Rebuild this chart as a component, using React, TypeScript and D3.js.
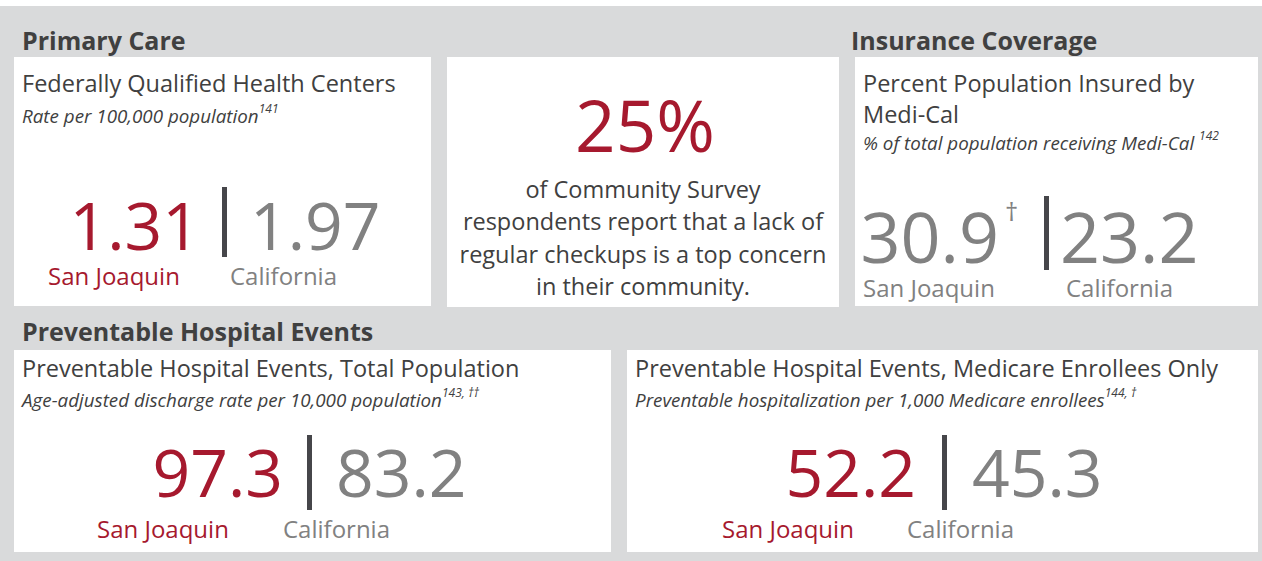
import React from "react";
import * as d3 from "d3";

// ---------- data ----------
const sectionTitles = ["Primary Care", "Insurance Coverage", "Preventable Hospital Events"];
const metricTitles = [
  ["Federally Qualified Health Centers"],
  ["Percent Population Insured by", "Medi-Cal"],
  ["Preventable Hospital Events, Total Population"],
  ["Preventable Hospital Events, Medicare Enrollees Only"],
];
const metricUnits = [
  "Rate per 100,000 population",
  "% of total population receiving Medi-Cal ",
  "Age-adjusted discharge rate per 10,000 population",
  "Preventable hospitalization per 1,000 Medicare enrollees",
];
const footnotes = ["141", "142", "143, ††", "144, †"];
const regions = ["San Joaquin", "California"];
const sanJoaquinValues = [1.31, 30.9, 97.3, 52.2];
const californiaValues = [1.97, 23.2, 83.2, 45.3];
const valueDecimals = [2, 1, 1, 1];
const sanJoaquinMarks = ["", "†", "", ""];
const surveyPercent = [25];
const surveyLines = [
  "of Community Survey",
  "respondents report that a lack of",
  "regular checkups is a top concern",
  "in their community.",
];

// ---------- style / layout ----------
const W = 1262;
const H = 561;
const FONT = "'Open Sans', sans-serif";
const RED = "#a6192e";
const GREY = "#818181";
const DARK = "#404040";
const BG = "#d9dadb";
const BAR = "#46464a";

const sectionPos = [
  { x: 22, y: 50 },
  { x: 851, y: 50 },
  { x: 22, y: 341 },
];
const surveyBox = { x: 447, y: 57, w: 392, h: 250 };
const metricLayout = [
  { box: { x: 14, y: 57, w: 417, h: 249 }, tx: 22, ty: 92, uy: 123, divX: 222, d1: 187, d2: 257, ny: 250, ns: 66, sjEnd: 200, caStart: 250, ly: 285, sjLx: 48, caLx: 230, sjColor: RED },
  { box: { x: 855, y: 57, w: 403, h: 249 }, tx: 863, ty: 92, uy: 150, divX: 1044, d1: 196, d2: 270, ny: 263, ns: 70, sjEnd: 999, caStart: 1060, ly: 297, sjLx: 863, caLx: 1066, sjColor: GREY },
  { box: { x: 14, y: 350, w: 597, h: 202 }, tx: 22, ty: 377, uy: 407, divX: 307, d1: 435, d2: 510, ny: 497, ns: 66, sjEnd: 283, caStart: 336, ly: 538, sjLx: 97, caLx: 283, sjColor: RED },
  { box: { x: 627, y: 350, w: 631, h: 202 }, tx: 635, ty: 377, uy: 407, divX: 942, d1: 435, d2: 510, ny: 497, ns: 66, sjEnd: 916, caStart: 972, ly: 538, sjLx: 722, caLx: 907, sjColor: RED },
];

export default function App() {
  const fmt = (v: number, d: number) => d3.format(`.${d}f`)(v);
  const cx = surveyBox.x + surveyBox.w / 2;
  return (
    <svg
      width={W}
      height={H}
      style={{ position: "absolute", left: 0, top: 0, display: "block" }}
      fontFamily={FONT}
    >
      <rect x={0} y={0} width={W} height={H} fill="#ffffff" />
      <rect x={0} y={6} width={W} height={H - 6} fill={BG} />
      {sectionTitles.map((t, i) => (
        <text key={t} x={sectionPos[i].x} y={sectionPos[i].y} fontSize={25} fontWeight={700} fill={DARK}>
          {t}
        </text>
      ))}

      {/* survey panel */}
      <rect x={surveyBox.x} y={surveyBox.y} width={surveyBox.w} height={surveyBox.h} fill="#fff" />
      <text x={cx + 2} y={152} textAnchor="middle" fontSize={71} fill={RED}>
        {surveyPercent[0]}%
      </text>
      {surveyLines.map((l, i) => (
        <text key={i} x={cx} y={198 + i * 32.3} textAnchor="middle" fontSize={23.5} fill={DARK}>
          {l}
        </text>
      ))}

      {metricLayout.map((m, i) => (
        <g key={i}>
          <rect x={m.box.x} y={m.box.y} width={m.box.w} height={m.box.h} fill="#fff" />
          {metricTitles[i].map((l, j) => (
            <text key={j} x={m.tx} y={m.ty + j * 31} fontSize={23.5} fill={DARK}>
              {l}
            </text>
          ))}
          <text x={m.tx} y={m.uy} fontSize={18.8} fontStyle="italic" fill={DARK}>
            {metricUnits[i]}
            <tspan fontSize={12} dy={-10}>{footnotes[i]}</tspan>
          </text>
          <rect x={m.divX} y={m.d1} width={5} height={m.d2 - m.d1} fill={BAR} />
          <text x={m.sjEnd} y={m.ny} textAnchor="end" fontSize={m.ns} fill={m.sjColor}>
            {fmt(sanJoaquinValues[i], valueDecimals[i])}
          </text>
          {sanJoaquinMarks[i] && (
            <text x={m.sjEnd + 6} y={m.ny - 42} fontSize={26} fill={m.sjColor}>
              {sanJoaquinMarks[i]}
            </text>
          )}
          <text x={m.caStart} y={m.ny} fontSize={m.ns} fill={GREY}>
            {fmt(californiaValues[i], valueDecimals[i])}
          </text>
          <text x={m.sjLx} y={m.ly} fontSize={24} fill={m.sjColor}>
            {regions[0]}
          </text>
          <text x={m.caLx} y={m.ly} fontSize={24} fill={GREY}>
            {regions[1]}
          </text>
        </g>
      ))}
    </svg>
  );
}
